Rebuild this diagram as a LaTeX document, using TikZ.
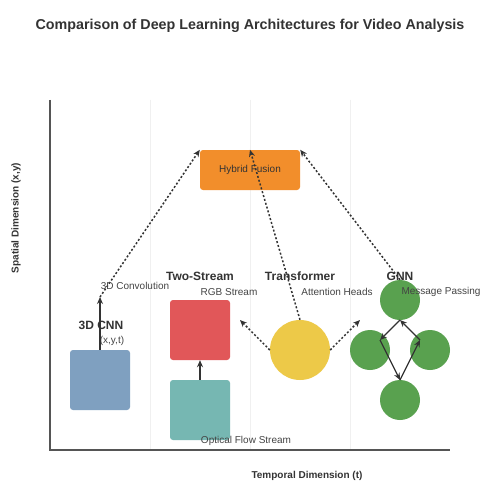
\documentclass[tikz,border=0pt]{standalone}
\usepackage{fontspec}
\setmainfont{Liberation Sans}
\usetikzlibrary{arrows.meta}
\definecolor{txt}{HTML}{333333}
\definecolor{lbl}{HTML}{444444}
\definecolor{cblue}{HTML}{7FA0C0}
\definecolor{cred}{HTML}{E15759}
\definecolor{cteal}{HTML}{76B7B2}
\definecolor{cyel}{HTML}{EDC948}
\definecolor{cgreen}{HTML}{59A14F}
\definecolor{corange}{HTML}{F28E2B}
\definecolor{gridc}{HTML}{F0F0F0}
\definecolor{axisc}{HTML}{555555}
\tikzset{
  box/.style={draw=none,rounded corners=3pt,minimum width=60pt,minimum height=60pt,inner sep=0pt},
  dot/.style={circle,draw=none,inner sep=0pt},
  title/.style={font=\bfseries\fontsize{12}{14}\selectfont,text=txt},
  small/.style={font=\fontsize{10}{12}\selectfont,text=lbl},
  axl/.style={font=\bfseries\fontsize{10}{12}\selectfont,text=txt},
  solidarr/.style={-{Stealth[length=7pt,width=6pt]},line width=1.5pt,draw=txt},
  dotarr/.style={-{Stealth[length=7pt,width=6pt]},line width=1.5pt,draw=txt,dash pattern=on 2pt off 2pt},
  gnnarr/.style={-{Stealth[length=7pt,width=6pt]},line width=1.3pt,draw=txt}
}
\begin{document}
\begin{tikzpicture}[x=1pt,y=-1pt]
\useasboundingbox (0,0) rectangle (500,500);
\fill[white] (0,0) rectangle (500,500);
% title
\node[font=\bfseries\fontsize{14.3}{16}\selectfont,text=txt] (ttl) at (250,26) {Comparison of Deep Learning Architectures for Video Analysis};
% grid
\foreach \gx in {150,250,350} \draw[gridc,line width=1pt] (\gx,100) -- (\gx,450);
% axes
\coordinate (o) at (50,450);
\coordinate (ytop) at (50,100);
\coordinate (xend) at (450,450);
\draw[axisc,line width=1.5pt] (ytop) -- (o) -- (xend);
\node[axl,rotate=90] (ylab) at (16,218) {Spatial Dimension (x,y)};
\node[axl] (xlab) at (307,476) {Temporal Dimension (t)};
% hybrid fusion
\node[box,fill=corange,minimum width=100pt,minimum height=40pt,font=\fontsize{10}{12}\selectfont,text=txt] (fus) at (250,170) {Hybrid Fusion};
% 3D CNN
\node[box,fill=cblue] (cnn) at (100,380) {};
\node[title] (cnnl) at (101,325) {3D CNN};
\node[small] (cnns) at (112,341) {(x,y,t)};
\coordinate (c3d) at (100,297);
\draw[solidarr] (cnn.north) -- (c3d);
\draw[dotarr] (c3d) -- (fus.north west);
\node[small] (convl) at (135,286) {3D Convolution};
% two-stream
\node[box,fill=cred] (rgb) at (200,330) {};
\node[box,fill=cteal] (flow) at (200,410) {};
\draw[solidarr] (flow.north) -- (rgb.south);
\node[title] (tsl) at (200,276) {Two-Stream};
\node[small] (rgbl) at (229,292) {RGB Stream};
\node[small] (flowl) at (246,441) {Optical Flow Stream};
% transformer
\node[dot,fill=cyel,minimum size=60pt] (tr) at (300,350) {};
\coordinate (tra) at (240,320);
\coordinate (trb) at (360,320);
\draw[dotarr] (tr.west) -- (tra);
\draw[dotarr] (tr.east) -- (trb);
\draw[dotarr] (tr.north) -- (fus.north);
\node[title] (trl) at (300,276) {Transformer};
\node[small] (trs) at (337,292) {Attention Heads};
% GNN
\node[dot,fill=cgreen,minimum size=40pt] (g1) at (400,300) {};
\node[dot,fill=cgreen,minimum size=40pt] (g2) at (370,350) {};
\node[dot,fill=cgreen,minimum size=40pt] (g3) at (430,350) {};
\node[dot,fill=cgreen,minimum size=40pt] (g4) at (400,400) {};
\coordinate (pt) at (400,320);
\coordinate (pl) at (380,340);
\coordinate (pr) at (420,340);
\coordinate (pb) at (400,380);
\draw[gnnarr] (pt) -- (pl);
\draw[gnnarr] (pl) -- (pb);
\draw[gnnarr] (pb) -- (pr);
\draw[gnnarr] (pr) -- (pt);
\draw[dotarr] (g1.north) -- (fus.north east);
\node[title] (gnnl) at (400,276) {GNN};
\node[small] (gnns) at (441,292) {Message Passing};
\end{tikzpicture}
\end{document}
